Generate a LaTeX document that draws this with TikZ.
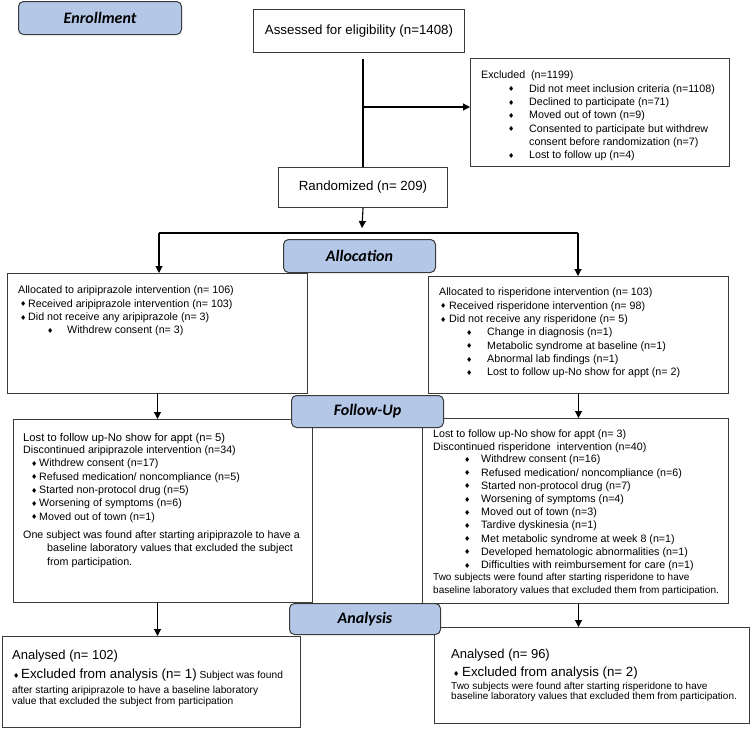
\documentclass[tikz,border=0pt]{standalone}
\usepackage{fontspec}
\setmainfont{Liberation Sans}
\newfontfamily\stagefont{Carlito}
\newfontfamily\symfont{DejaVu Sans}
\usepackage{tikz}
\usetikzlibrary{arrows.meta}
\definecolor{stagefill}{HTML}{B4C7E7}
\definecolor{edge}{HTML}{3A3A3A}
\newcommand\dmd{\raisebox{0.4pt}{\symfont\fontsize{7}{7}\selectfont ♦}}
\newcommand\itm[2]{\hspace*{#1}\makebox[#2][l]{\dmd}}
\tikzset{box/.style = {draw=edge, line width=1pt, anchor=north west, inner sep=0pt}}
\tikzset{stage/.style = {box, fill=stagefill, rounded corners=5pt,
                         font=\stagefont\bfseries\itshape\fontsize{16}{19}\selectfont}}
\tikzset{txt/.style = {anchor=north west, inner sep=0pt, align=left,
                       font=\fontsize{10.7}{13.3}\selectfont}}
\tikzset{link/.style = {draw=black, line width=1.1pt}}
\tikzset{flow/.style = {link, -{Triangle[length=7pt, width=7pt]}}}

\begin{document}
\begin{tikzpicture}[x=1pt, y=-1pt]
      \useasboundingbox (0,0) rectangle (751,728);

      \node [box, minimum width=211pt, minimum height=43pt, font=\fontsize{13.3}{16}\selectfont] (assessed) at (253,9) {Assessed for eligibility (n=1408)};
      \node [box, minimum width=259pt, minimum height=108pt] (excluded) at (470,58) {};
      \node [txt] (excluded-t) at ([shift={(11,13)}]excluded.north west) {Excluded\ \ (n=1199)\\
        \itm{27pt}{21pt}Did not meet inclusion criteria (n=1108)\\
        \itm{27pt}{21pt}Declined to participate (n=71)\\
        \itm{27pt}{21pt}Moved out of town (n=9)\\
        \itm{27pt}{21pt}Consented to participate but withdrew\\
        \hspace*{48pt}consent before randomization (n=7)\\
        \itm{27pt}{21pt}Lost to follow up (n=4)};
      \node [box, minimum width=169pt, minimum height=40pt, font=\fontsize{13.3}{16}\selectfont] (randomized) at (278,167) {Randomized (n= 209)};

      \node [box, minimum width=300pt, minimum height=120pt] (arialloc) at (7,273) {};
      \node [txt] (arialloc-t) at ([shift={(11,13)}]arialloc.north west) {Allocated to aripiprazole intervention (n= 106)\\
        \itm{2pt}{8pt}Received aripiprazole intervention (n= 103)\\
        \itm{2pt}{8pt}Did not receive any aripiprazole (n= 3)\\
        \itm{29pt}{20pt}Withdrew consent (n= 3)};
      \node [box, minimum width=300pt, minimum height=117pt] (risalloc) at (428,276) {};
      \node [txt] (risalloc-t) at ([shift={(11,12)}]risalloc.north west) {Allocated to risperidone intervention (n= 103)\\
        \itm{1pt}{9pt}Received risperidone intervention (n= 98)\\
        \itm{1pt}{9pt}Did not receive any risperidone (n= 5)\\
        \itm{27pt}{21pt}Change in diagnosis (n=1)\\
        \itm{27pt}{21pt}Metabolic syndrome at baseline (n=1)\\
        \itm{27pt}{21pt}Abnormal lab findings (n=1)\\
        \itm{27pt}{21pt}Lost to follow up-No show for appt (n= 2)};

      \node [box, minimum width=299pt, minimum height=183pt] (arifollow) at (13,419) {};
      \node [txt] (arifollow-t) at ([shift={(10,14)}]arifollow.north west) {{\fontsize{11.2}{13}\selectfont Lost to follow up-No show for appt (n= 5)}\\[-1pt]
        Discontinued aripiprazole intervention (n=34)\\
        \itm{8pt}{8pt}Withdrew consent (n=17)\\
        \itm{8pt}{8pt}Refused medication/ noncompliance (n=5)\\
        \itm{8pt}{8pt}Started non-protocol drug (n=5)\\
        \itm{8pt}{8pt}Worsening of symptoms (n=6)\\
        \itm{8pt}{8pt}Moved out of town (n=1)\\[5pt]
        One subject was found after starting aripiprazole to have a\\
        \hspace*{24pt}baseline laboratory values that excluded the subject\\
        \hspace*{24pt}from participation.};
      \node [box, minimum width=306pt, minimum height=185pt] (risfollow) at (422,418) {};
      \node [txt, font=\fontsize{10.7}{13.2}\selectfont] (risfollow-t) at ([shift={(11,12)}]risfollow.north west) {Lost to follow up-No show for appt (n= 3)\\[-0.5pt]
        Discontinued risperidone\ \ intervention (n=40)\\[-1pt]
        \itm{31pt}{17pt}Withdrew consent (n=16)\\
        \itm{31pt}{17pt}Refused medication/ noncompliance (n=6)\\
        \itm{31pt}{17pt}Started non-protocol drug (n=7)\\
        \itm{31pt}{17pt}Worsening of symptoms (n=4)\\
        \itm{31pt}{17pt}Moved out of town (n=3)\\
        \itm{31pt}{17pt}Tardive dyskinesia (n=1)\\
        \itm{31pt}{17pt}Met metabolic syndrome at week 8 (n=1)\\
        \itm{31pt}{17pt}Developed hematologic abnormalities (n=1)\\
        \itm{31pt}{17pt}Difficulties with reimbursement for care (n=1)\\[-1pt]
        {\fontsize{10}{12}\selectfont Two subjects were found after starting risperidone to have}\\
        {\fontsize{10}{12}\selectfont baseline laboratory values that excluded them from participation.}};

      \node [box, minimum width=298pt, minimum height=91pt] (arianal) at (2,636) {};
      \node [txt, font=\fontsize{10.2}{11}\selectfont] (arianal-t) at ([shift={(10,14)}]arianal.north west) {{\fontsize{13}{13}\selectfont Analysed (n= 102)}\\[6pt]
        \itm{1pt}{8pt}{\fontsize{13.3}{13}\selectfont Excluded from analysis (n= 1)} Subject was found\\[4pt]
        after starting aripiprazole to have a baseline laboratory\\
        value that excluded the subject from participation};
      \node [box, minimum width=315pt, minimum height=96pt] (risanal) at (434,627) {};
      \node [txt, font=\fontsize{10}{11}\selectfont] (risanal-t) at ([shift={(17,22)}]risanal.north west) {{\fontsize{13}{13}\selectfont Analysed (n= 96)}\\[5pt]
        \itm{2pt}{9pt}{\fontsize{13.3}{13}\selectfont Excluded from analysis (n= 2)}\\[2pt]
        Two subjects were found after starting risperidone to have\\[-1pt]
        baseline laboratory values that excluded them from participation.};

      \coordinate (branch) at (362,107);
      \coordinate (fork) at (362,233);
      \coordinate (forkl) at (159,233);
      \coordinate (forkr) at (578,233);
      \draw [link] ([yshift=-6pt]assessed.south -| randomized.north) -- (randomized.north);
      \draw [flow] (branch) -- (branch -| excluded.west);
      \draw [flow] (randomized.south) -- ([yshift=5pt]fork);
      \draw [link] (forkl) -- (forkr);
      \draw [flow] (forkl) -- (forkl |- arialloc.north);
      \draw [flow] (forkr) -- (forkr |- risalloc.north);
      \draw [flow] (arialloc.south) -- (arialloc.south |- arifollow.north);
      \draw [flow] (risalloc.south) -- (risalloc.south |- risfollow.north);
      \draw [flow] (arifollow.south -| arialloc.south) -- (arianal.north -| arialloc.south);
      \draw [flow] (risfollow.south -| risalloc.south) -- (risanal.north -| risalloc.south);

      \node [stage, minimum width=163pt, minimum height=33pt] (enroll) at (18,1) {Enrollment};
      \node [stage, minimum width=152pt, minimum height=33pt] (allocation) at (283,239) {Allocation};
      \node [stage, minimum width=152pt, minimum height=32pt] (followup) at (291,395) {Follow-Up};
      \node [stage, minimum width=151pt, minimum height=31pt] (analysis) at (289,603) {Analysis};
\end{tikzpicture}
\end{document}
